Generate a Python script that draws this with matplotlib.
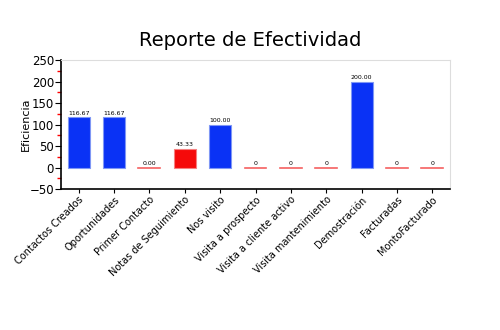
import numpy as np
import matplotlib.pyplot as plt
from matplotlib.ticker import MultipleLocator

# Datos del reporte
categorias = ["Contactos Creados", "Oportunidades", "Primer Contacto",
              "Notas de Seguimiento", "Nos visito", "Visita a prospecto",
              "Visita a cliente activo", "Visita mantenimiento",
              "Demostración", "Facturadas", "MontoFacturado"]
valores = [116.67, 116.67, 0.0, 43.33, 100.0, 0, 0, 0, 200.0, 0, 0]
etiquetas = ["116.67", "116.67", "0.00", "43.33", "100.00", "0", "0", "0",
             "200.00", "0", "0"]

plt.rcParams['font.family'] = ['DejaVu Sans']

fig = plt.figure(figsize=(5, 3.3), dpi=100)
ax = fig.add_axes([0.122, 0.427, 0.778, 0.391])

x = np.arange(len(categorias))
for xi, v, lab in zip(x, valores, etiquetas):
    if v == 0:
        ax.plot([xi - 0.31, xi + 0.31], [0, 0], color='#f56060', lw=1.2)
    else:
        color = '#0a32f5' if v >= 50 else '#f50a0a'
        borde = '#7f97f5' if v >= 50 else '#f58080'
        ax.bar(xi, v, width=0.62, color=color, edgecolor=borde, linewidth=0.8)
    ax.text(xi, v + 4, lab, ha='center', va='bottom', fontsize=4.5)

ax.set_xlim(-0.5, len(categorias) - 0.5)
ax.set_ylim(-50, 250)
ax.yaxis.set_major_locator(MultipleLocator(50))
ax.yaxis.set_minor_locator(MultipleLocator(25))
ax.tick_params(axis='y', which='minor', color='red', length=3, width=1)
ax.tick_params(axis='y', which='major', length=4, labelsize=8.5, pad=1)
ax.tick_params(axis='x', length=3, pad=1)
ax.set_xticks(x)
ax.set_xticklabels(categorias, rotation=45, ha='right', rotation_mode='anchor', fontsize=7)
ax.set_ylabel("Eficiencia", fontsize=8)
ax.yaxis.set_label_coords(-0.078, 0.5)

ax.spines['top'].set_color('#dddddd')
ax.spines['right'].set_color('#dddddd')
ax.spines['left'].set_linewidth(1.2)
ax.spines['bottom'].set_linewidth(1.2)

fig.text(0.5, 0.86, "Reporte de Efectividad", ha='center', fontsize=14)

plt.savefig("out.png", dpi=100)
